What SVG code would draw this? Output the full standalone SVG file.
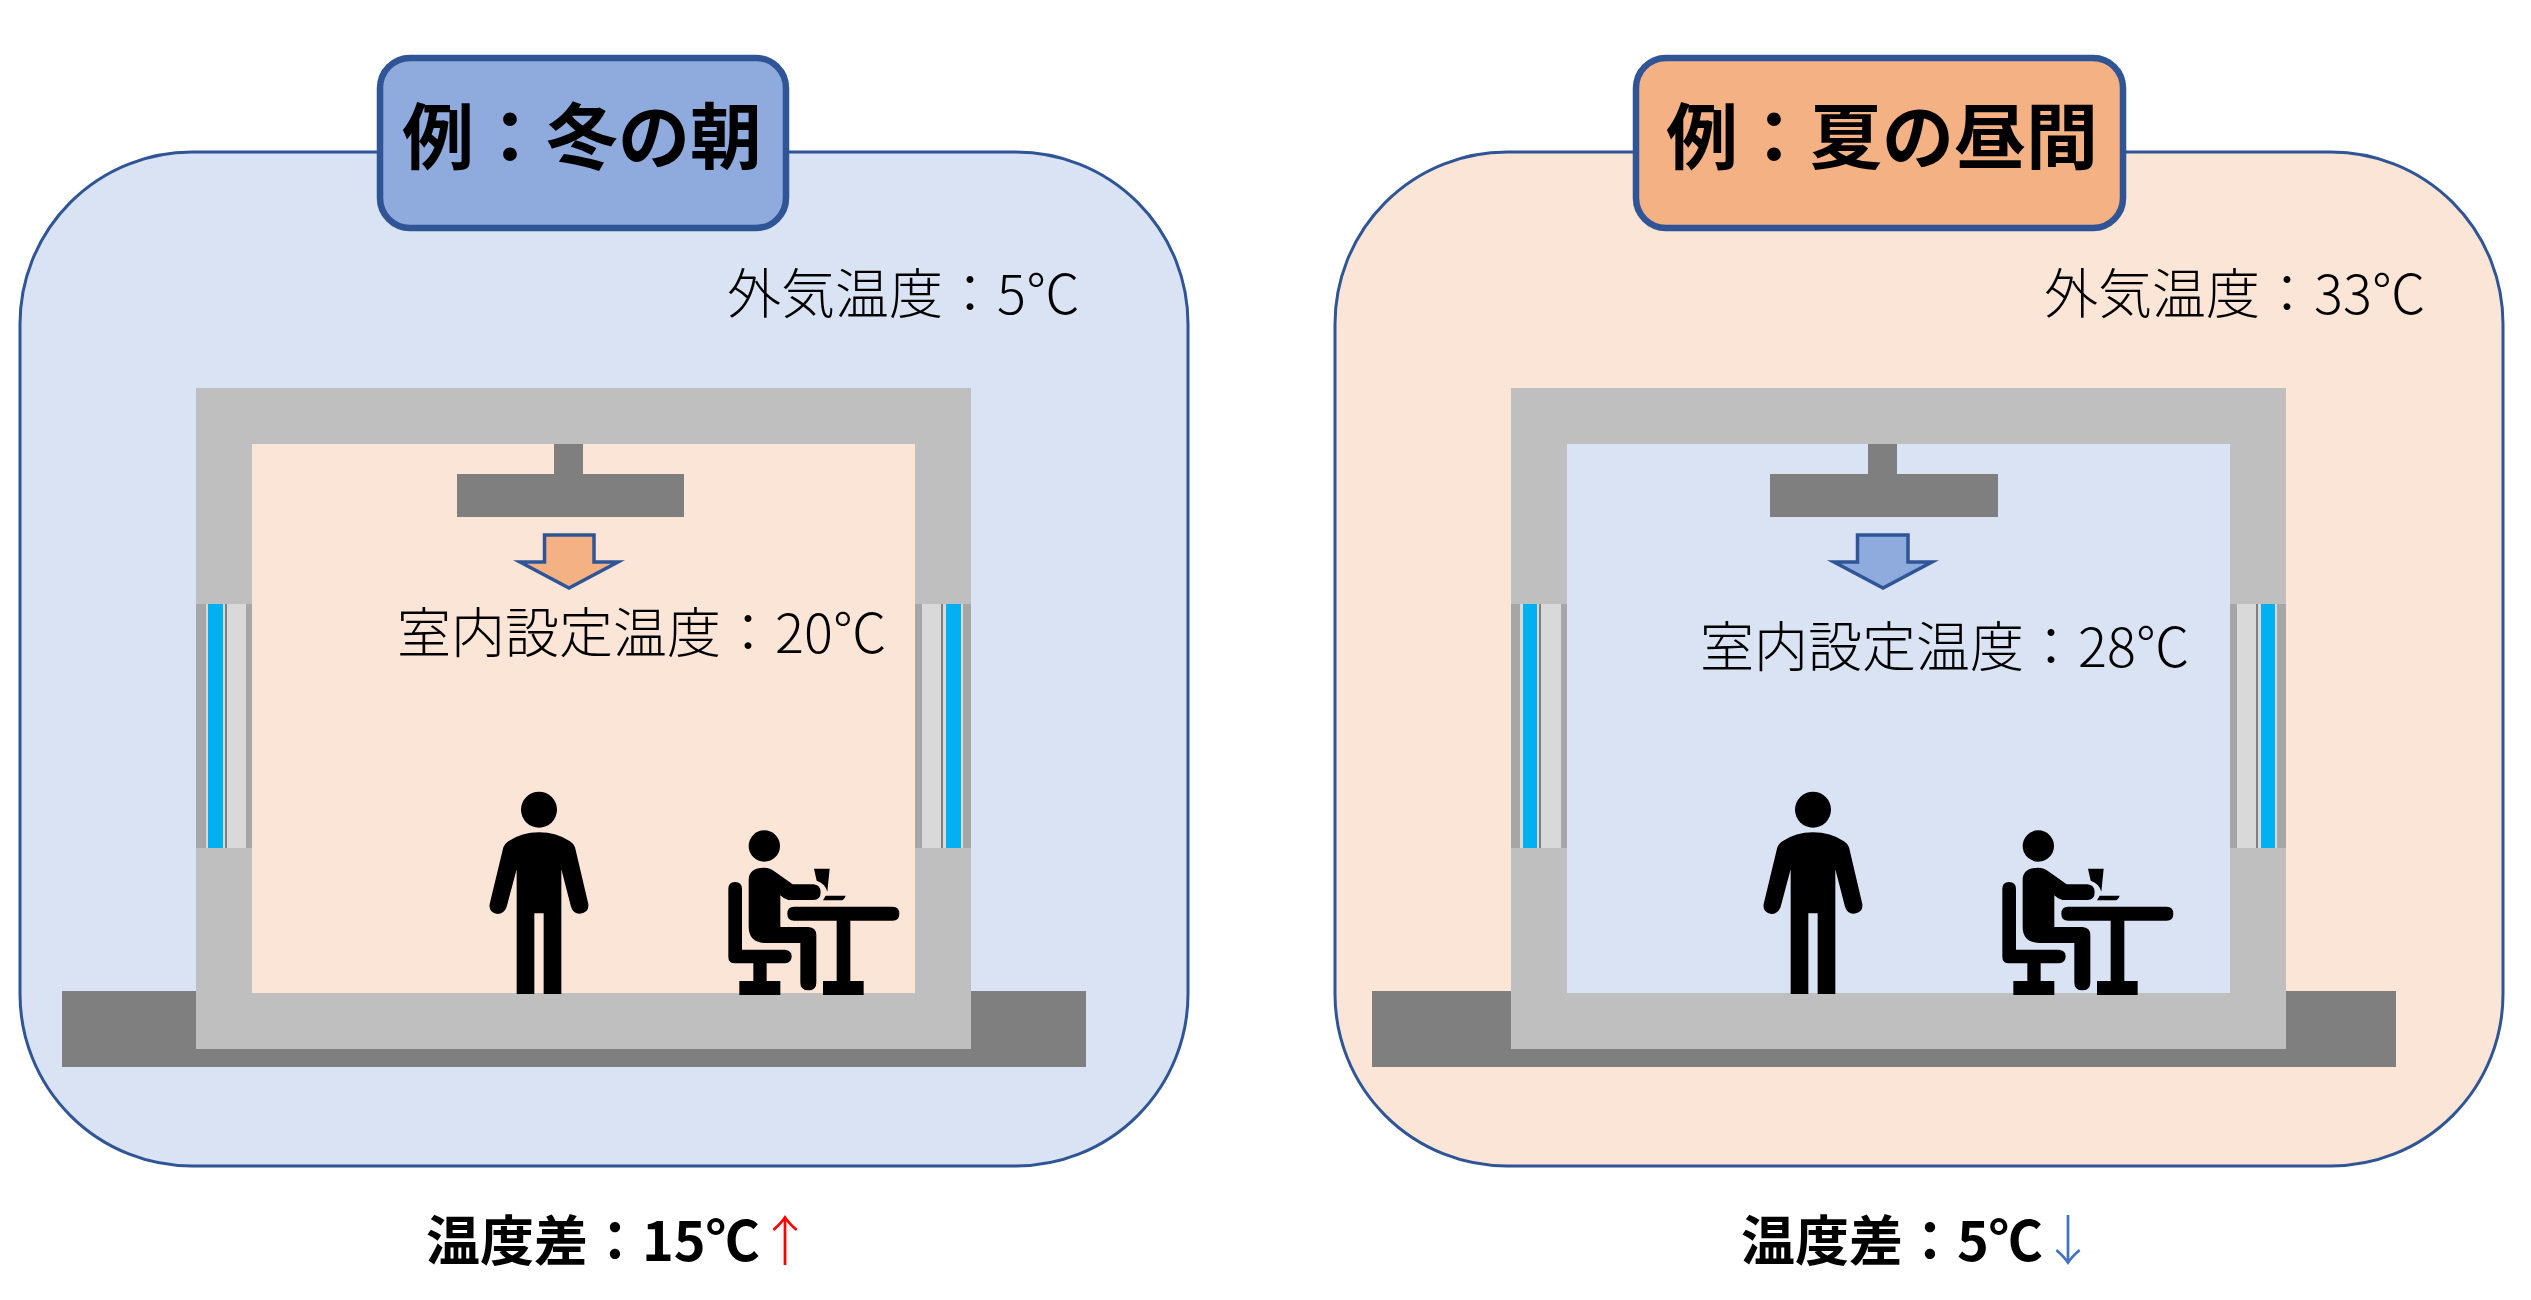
<svg xmlns="http://www.w3.org/2000/svg" width="2531" height="1300" viewBox="0 0 2531 1300">
<style>
text{font-family:"Noto Sans CJK JP","Noto Sans CJK SC",sans-serif;fill:#000}
.title{font-size:72px;font-weight:700}
.light{font-size:54px;font-weight:300}
.diff{font-size:54px;font-weight:700}
.arr{font-size:54px;font-weight:300;text-anchor:middle}
.wall{fill:#bfbfbf}.gr{fill:#7f7f7f}.fr{fill:#a6a6a6}.gl{fill:#d9d9d9}.bl{fill:#00b0f0}
.panel{stroke:#2f5597;stroke-width:3}
.tb{stroke:#2f5597;stroke-width:6.5}
.ar{stroke:#2f5597;stroke-width:3.5;stroke-miterlimit:10}
.cold{fill:#dae3f3}.warm{fill:#fbe5d6}.cold2{fill:#8faadc}.warm2{fill:#f4b183}
</style>
<defs>
<g id="person" transform="scale(.33333)">
<circle cx="237" cy="119" r="54"/>
<path d="M170 672V298L140 410Q132 432 112 432Q85 428 89 402L130 232Q133 222 145 214Q185 187 237 187Q290 187 330 214Q342 222 345 232L385 402Q388 428 360 431Q340 432 333 410L304 298V672H251V430H223V672Z"/>
</g>
<g id="seated" transform="scale(.33333)">
<circle cx="913" cy="228" r="47"/>
<path d="M866 330Q866 293 913 293Q930 293 945 305L998 343H1060Q1082 345 1082 367Q1082 390 1060 390H985Q972 388 961 376V471H1045Q1069 473 1069 495V638Q1069 661 1045 661Q1021 661 1021 638V519H915Q866 517 866 470Z"/>
<path d="M805 357Q805 336 825 336Q846 336 846 357V539H975Q995 541 995 559Q995 579 975 580H920V633H961V675H838V633H880V580H825Q805 580 805 560Z"/>
<path d="M1002 410H1298Q1318 410 1318 431Q1318 452 1298 452H1171V633H1211V675H1089V633H1130V452H1002Q982 452 982 431Q982 410 1002 410Z"/>
<path d="M1062 296H1109L1102 365Q1095 340 1070 332Z"/>
<path d="M1097 377H1157Q1152 390 1145 391H1089Z"/>
</g>
</defs>

<g id="winter">
<rect id="winter-panel" class="panel cold" x="20" y="152" width="1168" height="1014" rx="172" ry="172"/>
<rect class="gr" x="62" y="991" width="1024" height="76"/>
<g id="winter-building">
<rect class="wall" x="196" y="388" width="775" height="661"/>
<rect class="warm" x="252" y="444" width="663" height="549"/>
<rect class="fr" x="196" y="604" width="10" height="244"/><rect class="gl" x="206" y="604" width="2" height="244"/><rect class="bl" x="208" y="604" width="15" height="244"/><rect class="gl" x="223" y="604" width="2" height="244"/><rect class="gr" x="225" y="604" width="2" height="244"/><rect class="gl" x="227" y="604" width="19" height="244"/><rect class="fr" x="246" y="604" width="6" height="244"/>
<rect class="fr" x="915" y="604" width="7" height="244"/><rect class="gl" x="922" y="604" width="19" height="244"/><rect class="gr" x="941" y="604" width="2" height="244"/><rect class="gl" x="943" y="604" width="3" height="244"/><rect class="bl" x="946" y="604" width="15" height="244"/><rect class="gl" x="961" y="604" width="2" height="244"/><rect class="fr" x="963" y="604" width="8" height="244"/>
</g>
<g id="winter-unit">
<rect class="gr" x="554" y="444" width="29" height="30"/>
<rect class="gr" x="457" y="474" width="227" height="43"/>
<path class="ar warm2" d="M544.5 535H594V562H618L569 588L520 562H544.5Z"/>
</g>
<use id="winter-person" href="#person" x="460" y="770"/>
<use id="winter-seated" href="#seated" x="460" y="770"/>
<g id="winter-title">
<rect class="tb cold2" x="380" y="58" width="406" height="170" rx="30" ry="30"/>
<text class="title" x="402" y="163">例&#xFF1A;冬の朝</text>
</g>
<text id="winter-out" class="light" x="727" y="314">外気温度&#xFF1A;5&#x2103;</text>
<text id="winter-in" class="light" x="397" y="653">室内設定温度&#xFF1A;20&#x2103;</text>
<g id="winter-diff">
<text class="diff" x="426" y="1261">温度差&#xFF1A;15&#x2103;</text>
<text class="arr" x="785" y="1261" style="fill:#f00">&#x2191;</text>
</g>
</g>

<g id="summer">
<rect id="summer-panel" class="panel warm" x="1335" y="152" width="1168" height="1014" rx="172" ry="172"/>
<rect class="gr" x="1372" y="991" width="1024" height="76"/>
<g id="summer-building">
<rect class="wall" x="1511" y="388" width="775" height="661"/>
<rect class="cold" x="1567" y="444" width="663" height="549"/>
<rect class="fr" x="1511" y="604" width="9" height="244"/><rect class="gl" x="1520" y="604" width="3" height="244"/><rect class="bl" x="1523" y="604" width="14" height="244"/><rect class="gl" x="1537" y="604" width="2" height="244"/><rect class="gr" x="1539" y="604" width="2" height="244"/><rect class="gl" x="1541" y="604" width="20" height="244"/><rect class="fr" x="1561" y="604" width="6" height="244"/>
<rect class="fr" x="2230" y="604" width="7" height="244"/><rect class="gl" x="2237" y="604" width="19" height="244"/><rect class="gr" x="2256" y="604" width="2" height="244"/><rect class="gl" x="2258" y="604" width="3" height="244"/><rect class="bl" x="2261" y="604" width="14" height="244"/><rect class="gl" x="2275" y="604" width="2" height="244"/><rect class="fr" x="2277" y="604" width="9" height="244"/>
</g>
<g id="summer-unit">
<rect class="gr" x="1868" y="444" width="29" height="30"/>
<rect class="gr" x="1770" y="474" width="228" height="43"/>
<path class="ar cold2" d="M1857.5 535H1908V562H1932L1883 588L1834 562H1857.5Z"/>
</g>
<use id="summer-person" href="#person" x="1734" y="770"/>
<use id="summer-seated" href="#seated" x="1734" y="770"/>
<g id="summer-title">
<rect class="tb warm2" x="1636" y="58" width="487" height="170" rx="30" ry="30"/>
<text class="title" x="1666" y="163">例&#xFF1A;夏の昼間</text>
</g>
<text id="summer-out" class="light" x="2044" y="314">外気温度&#xFF1A;33&#x2103;</text>
<text id="summer-in" class="light" x="1700" y="667">室内設定温度&#xFF1A;28&#x2103;</text>
<g id="summer-diff">
<text class="diff" x="1741" y="1261">温度差&#xFF1A;5&#x2103;</text>
<text class="arr" x="2068" y="1261" style="fill:#4472c4">&#x2193;</text>
</g>
</g>
</svg>
